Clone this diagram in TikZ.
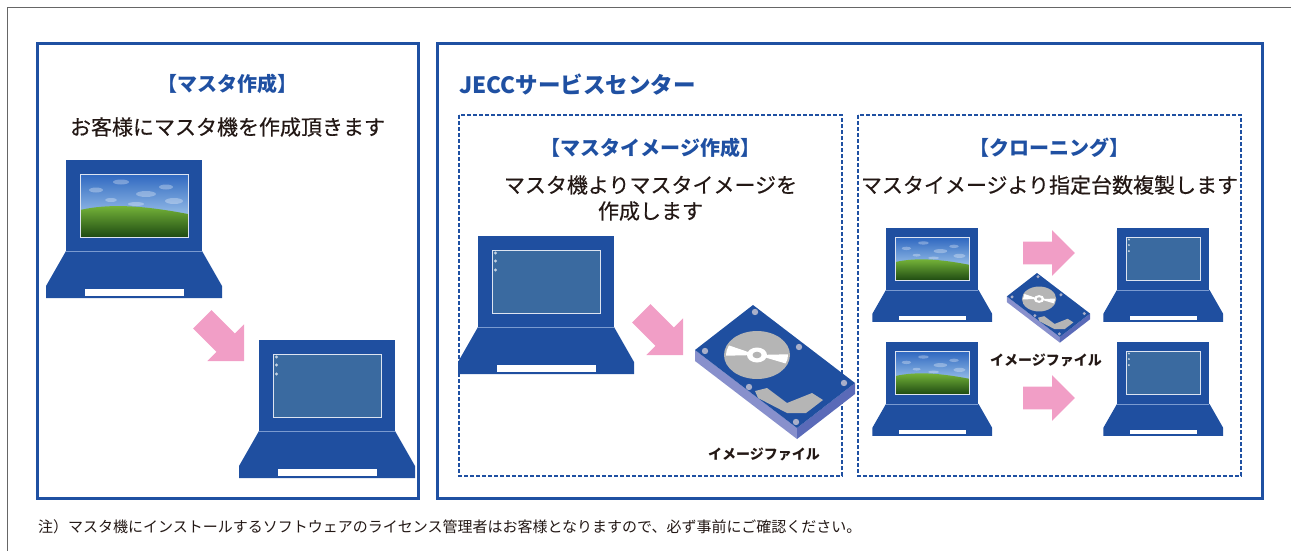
\documentclass[tikz,border=0pt]{standalone}
\usepackage{fontspec}
\newfontfamily\jp{Noto Sans CJK JP}
\newfontfamily\jpmed[FakeBold=0.4]{Noto Sans CJK JP}

\definecolor{jeccblue}{HTML}{1F50A2}
\definecolor{lidblue}{HTML}{1F4FA0}
\definecolor{lidline}{HTML}{7A9AD0}
\definecolor{deskblue}{HTML}{3A6AA0}
\definecolor{arrowpink}{HTML}{F19EC6}
\definecolor{inkblack}{HTML}{231815}
\definecolor{diskgray}{HTML}{B5B5B5}
\definecolor{sidea}{HTML}{8890CC}
\definecolor{sideb}{HTML}{5A6AB8}
\definecolor{screw}{HTML}{A9AFC9}
\definecolor{skytop}{HTML}{2F68C0}
\definecolor{skylow}{HTML}{9CC2EA}
\definecolor{hillhi}{HTML}{7CBC3C}
\definecolor{hilllo}{HTML}{1E4A12}

\tikzset{
    panel/.style={draw=jeccblue, line width=3pt},
    subpanel/.style={draw=jeccblue, line width=2.8pt, dash pattern=on 4pt off 2pt},
    heading/.style={font=\jp\bfseries\fontsize{20}{24}\selectfont, text=jeccblue, inner sep=0pt},
    lead/.style={font=\jpmed\fontsize{21}{26}\selectfont, text=inkblack, inner sep=0pt, align=center},
    caption/.style={font=\jp\bfseries\fontsize{14}{16}\selectfont, text=inkblack, inner sep=0pt},
    note/.style={font=\jp\fontsize{15}{18}\selectfont, text=inkblack, inner sep=0pt},
    % laptop body, lid corner at the origin
    laptop/.pic={
        \fill[lidblue] (0,0) rectangle (136,91);
        \fill[lidblue] (0,91) -- (136,91) -- (156,126) -- (156,138) -- (-20,138) -- (-20,126) -- cycle;
        \draw[lidline, line width=.6pt] (0,91) -- (136,91);
        \fill[white] (19,129) rectangle (118,136);
    },
    % green hill wallpaper
    bliss/.pic={
        \begin{scope}
            \clip (14,14) rectangle (122,77);
            \shade[top color=skytop, bottom color=skylow] (14,14) rectangle (122,58);
            \foreach \cx/\cy/\rx/\ry in {30/30/7/2.5, 55/22/8/2.5, 80/34/10/3, 100/27/7/2.5, 108/41/9/3, 45/40/6/2, 70/44/8/2}
                \fill[white, opacity=.3] (\cx,\cy) ellipse[x radius=\rx, y radius=\ry];
            \shade[top color=hillhi, bottom color=hilllo] (14,50) .. controls (45,43) and (80,46) .. (122,54) -- (122,77) -- (14,77) -- cycle;
        \end{scope}
        \draw[white!85!lidblue, line width=.8pt] (14,14) rectangle (122,77);
    },
    % empty desktop
    desktop/.pic={
        \fill[deskblue] (14,14) rectangle (122,77);
        \foreach \y in {17,25,34}
            \fill[white!70!deskblue] (17.5,\y) circle[radius=1.6];
        \draw[white!85!lidblue, line width=.8pt] (14,14) rectangle (122,77);
    },
    % hard disk, top corner at the origin
    hdd/.pic={
        \fill[sidea] (-58,45) -- (44,123) -- (44,134) -- (-58,56) -- cycle;
        \fill[sideb] (44,123) -- (102,78) -- (102,89) -- (44,134) -- cycle;
        \fill[lidblue] (0,0) -- (102,78) -- (44,123) -- (-58,45) -- cycle;
        \fill[diskgray] (4,50) ellipse[x radius=33, y radius=24];
        \begin{scope}
            \clip (4,50) ellipse[x radius=31, y radius=22];
            \fill[white] (4,50) -- (-40,51) -- (-40,35) -- cycle;
            \fill[white] (4,50) -- (48,49) -- (48,63) -- cycle;
        \end{scope}
        \fill[white] (4,50) ellipse[x radius=10, y radius=7.5];
        \fill[diskgray] (4,50) ellipse[x radius=4.5, y radius=3.3];
        \fill[diskgray] (2,86) -- (14,83) -- (34,98) -- (59,88) -- (70,95) -- (53,108) -- (34,108) -- (5,93) -- cycle;
        \foreach \sx/\sy in {2/7, -48/46, 46/42, -4/82, 91/78, 43/117}
            \fill[screw] (\sx,\sy) circle[radius=3.2];
    },
    pinkarrow/.pic={
        \fill[arrowpink] (0,-13) -- (33,-13) -- (33,-26) -- (59,0) -- (33,26) -- (33,13) -- (0,13) -- cycle;
    }
}

\begin{document}
\begin{tikzpicture}[x=1pt, y=-1pt]
    \useasboundingbox (0,0) rectangle (1291,551);

    % page frame
    \draw[gray!80!black, line width=1pt] (7,551) -- (7,8) -- (1291,8);

    % Customer side
    \draw[panel] (37,44) rectangle (418,498);
    \node[heading] (mastertitle) at (227.5,84) {【マスタ作成】};
    \node[lead] (mastertext) at (227.5,127) {お客様にマスタ機を作成頂きます};
    \pic at (66,160) {laptop};
    \pic at (66,160) {bliss};
    \pic[rotate=-45] at (202.3,319.3) {pinkarrow};
    \pic at (259,340) {laptop};
    \pic at (259,340) {desktop};

    % Service centre
    \draw[panel] (437,44) rectangle (1262,498);
    \node[heading, font=\jp\bfseries\fontsize{22.5}{26}\selectfont, anchor=west] (centretitle) at (459,85) {JECCサービスセンター};

        % Image creation
        \draw[subpanel] (459,115) rectangle (842,476);
        \node[heading] (imagetitle) at (650.5,148) {【マスタイメージ作成】};
        \node[lead] (imagetext) at (650.5,198) {マスタ機よりマスタイメージを\\作成します};
        \pic at (478,236) {laptop};
        \pic at (478,236) {desktop};
        \pic[rotate=-45] at (641.3,313.3) {pinkarrow};
        \pic at (753,305) {hdd};
        \node[caption] (imagefile) at (764,454) {イメージファイル};

        % Cloning
        \draw[subpanel] (858,115) rectangle (1241,476);
        \node[heading] (clonetitle) at (1049.5,148) {【クローニング】};
        \node[lead] (clonetext) at (1049.5,185) {マスタイメージより指定台数複製します};
        \foreach \y in {228,342}
        {
            \pic[scale=.68] at (886,\y) {laptop};
            \pic[scale=.68] at (886,\y) {bliss};
            \pic[scale=.68] at (1117,\y) {laptop};
            \pic[scale=.68] at (1117,\y) {desktop};
        }
        \pic[scale=.88] at (1023,253) {pinkarrow};
        \pic[scale=.88] at (1023,398) {pinkarrow};
        \pic[scale=.52] at (1037,273) {hdd};
        \node[caption] (clonefile) at (1046,360) {イメージファイル};

    \node[note, anchor=west] (licence) at (38,527) {注）マスタ機にインストールするソフトウェアのライセンス管理者はお客様となりますので、必ず事前にご確認ください。};
\end{tikzpicture}
\end{document}
